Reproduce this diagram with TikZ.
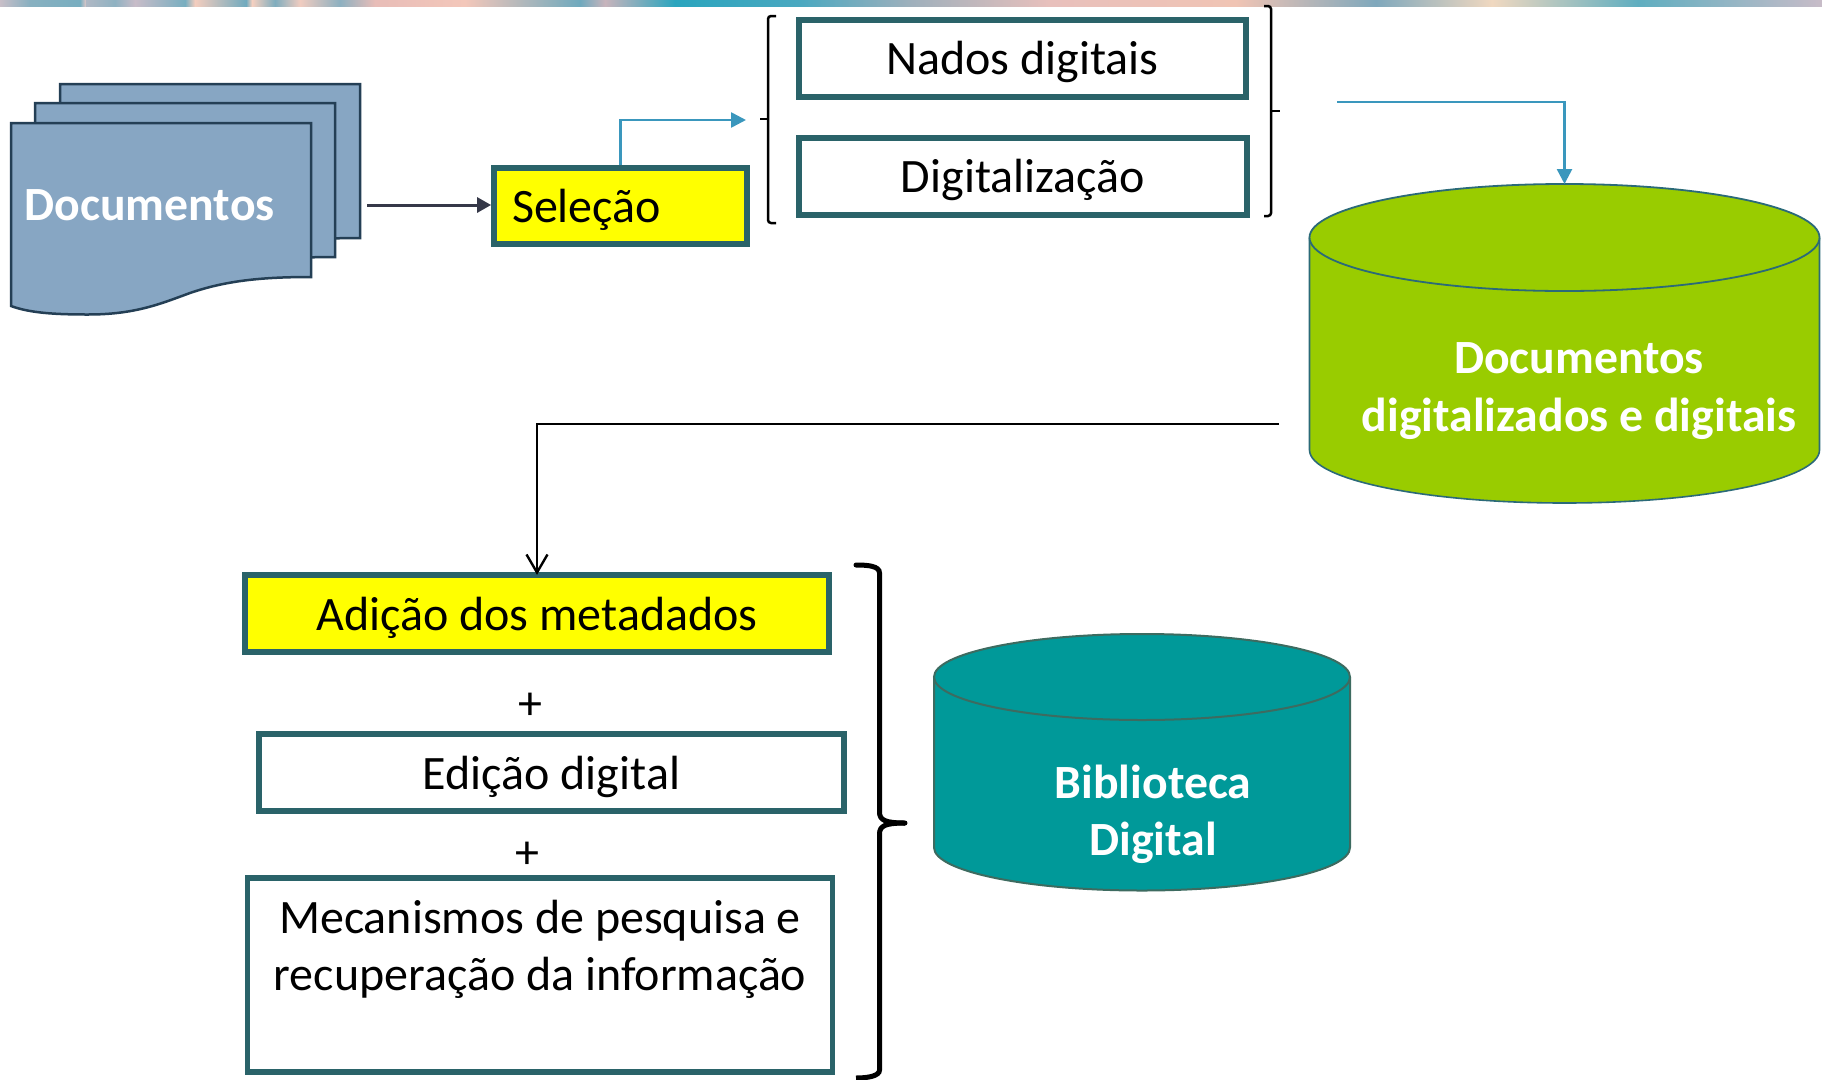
\documentclass[tikz,border=0pt]{standalone}
\usepackage{fontspec}
\setmainfont{Carlito}
\usetikzlibrary{arrows.meta}
\definecolor{boxline}{HTML}{2A6369}
\definecolor{docfill}{HTML}{87A6C3}
\definecolor{docline}{HTML}{243F55}
\definecolor{arrowdark}{HTML}{353848}
\definecolor{flowblue}{HTML}{3A97BD}
\definecolor{greenfill}{HTML}{99CC00}
\definecolor{greenline}{HTML}{2B6A78}
\definecolor{tealfill}{HTML}{009999}
\definecolor{tealline}{HTML}{3D6B60}
\definecolor{markyellow}{HTML}{FFFF00}
\tikzset{
  bigtext/.style={font=\fontsize{48}{57}\selectfont},
  stepbox/.style={draw=boxline,line width=5.8pt,fill=white,inner sep=0pt,bigtext,align=center},
  markbox/.style={stepbox,fill=markyellow},
  whitelabel/.style={text=white,inner sep=0pt,align=center,font=\fontsize{47.7}{57.5}\selectfont\bfseries},
  sheet/.style={fill=docfill,draw=docline,line width=2.5pt,line join=miter},
  brace/.style={draw=black,line width=2.5pt,rounded corners=3pt},
  blueflow/.style={draw=flowblue,line width=2.6pt,-{Triangle[length=15pt,width=15pt]}},
}
\newcommand{\sheetpath}{(11,123) -- (311,123) -- (311,277) .. controls (260,277) and (225,281) .. (190,293) .. controls (160,304) and (135,314.5) .. (88,314.5) .. controls (55,314.5) and (30,313) .. (11,306) -- cycle}
\begin{document}
\begin{tikzpicture}[x=1pt,y=-1pt]
\useasboundingbox (0,0) rectangle (1822,1079);
\fill[white] (0,0) rectangle (1822,1079);
% top picture strip
\foreach \xa/\xb/\ca/\cb in {
 0/30/C8BFC8/88B0C0, 30/80/88B0C0/78AEC0, 80/86/78AEC0/E0C8C8, 86/115/B0B8C4/8FB2C2,
 115/135/8FB2C2/C8BCC8, 135/185/C8BCC8/78AEC0, 185/195/78AEC0/F4CDBE, 195/246/F4CDBE/70AABE,
 246/252/70AABE/F5D0C0, 252/275/F5D0C0/7FADBE, 275/300/7FADBE/F0CCC0, 300/340/F0CCC0/8DB0C0,
 340/375/8DB0C0/E8BDB8, 375/465/E8BDB8/F3C7BA, 465/580/F3C7BA/6FA9BD, 580/605/6FA9BD/C8B4BC,
 605/675/C8B4BC/2AA5BE, 675/800/2AA5BE/4AA8C0, 800/911/4AA8C0/9FB0BC,
 911/1050/9FB0BC/E8C0BC, 1050/1236/E8C0BC/F0C4B4, 1236/1376/F0C4B4/7FA8BC,
 1376/1492/7FA8BC/F0D8C0, 1492/1638/F0D8C0/5FAEC0, 1638/1822/5FAEC0/C8BCC8}{
  \definecolor{stripa}{HTML}{\ca}\definecolor{stripb}{HTML}{\cb}
  \fill[left color=stripa,right color=stripb] (\xa,0) rectangle (\xb,6);
}
% stacked documents
\begin{scope}[shift={(49,-39)}]\draw[sheet] \sheetpath;\end{scope}
\begin{scope}[shift={(24,-20)}]\draw[sheet] \sheetpath;\end{scope}
\draw[sheet] \sheetpath;
\node[whitelabel,anchor=base west] (doclabel) at (24.5,220) {Documentos};

% boxes
\node[markbox,align=left,text width=217pt,inner xsep=18pt,minimum height=76pt,text height=34pt,text depth=2pt] (sel) at (620.5,206) {Seleção};
\node[stepbox,minimum width=447.5pt,minimum height=77.5pt,text height=33pt,text depth=2pt] (nados) at (1022.5,58.5) {Nados digitais};
\node[stepbox,minimum width=448.5pt,minimum height=77.5pt,text height=33pt,text depth=2pt] (digit) at (1023,176.5) {Digitalização};
\node[markbox,minimum width=584.5pt,minimum height=76.5pt,text height=35pt,text depth=2pt] (adicao) at (537,613.5) {Adição dos metadados};
\node[stepbox,minimum width=585.5pt,minimum height=77.5pt,text height=35pt,text depth=2pt] (edicao) at (551.5,772.5) {Edição digital};
\node[stepbox,minimum width=585pt,minimum height=193.5pt,text depth=3pt] (mecan) at (540,975) {Mecanismos de pesquisa e\\recuperação da informação\\[0pt]~};
\node[font=\fontsize{48}{57}\selectfont,inner sep=0pt] (plusa) at (530,706) {+};
\node[font=\fontsize{48}{57}\selectfont,inner sep=0pt] (plusb) at (527,855) {+};

% left and right braces of the top group
\draw[brace] (776,16) -- (768,16) -- (768,223) -- (776,223);
\draw[draw=black,line width=2.5pt] (760,119) -- (768,119);
\draw[brace] (1264,6) -- (1271,6) -- (1271,216) -- (1264,216);
\draw[draw=black,line width=2.5pt] (1271,111) -- (1280,111);

% green cylinder
\coordinate (greentop) at (1564.5,184);
\draw[greenline,line width=1.6pt,fill=greenfill] (1309.5,237.5) -- (1309.5,450) arc[start angle=180,end angle=360,x radius=255pt,y radius=53pt] -- (1819.5,237.5);
\draw[greenline,line width=1.8pt,fill=greenfill] (1564.5,237.5) ellipse[x radius=255pt,y radius=53.5pt];
\node[whitelabel,anchor=base] (greenlabel) at (1579,373.5) {Documentos};
\node[whitelabel,anchor=base] (greenlabelb) at (1579,431.5) {digitalizados e digitais};

% teal cylinder
\draw[tealline,line width=2pt,fill=tealfill] (934,677) -- (934,847.5) arc[start angle=180,end angle=360,x radius=208pt,y radius=43pt] -- (1350,677);
\draw[tealline,line width=2pt,fill=tealfill] (1142,677) ellipse[x radius=208pt,y radius=43pt];
\node[whitelabel,anchor=base] (biblio) at (1153,798) {Biblioteca};
\node[whitelabel,anchor=base] (biblib) at (1153,855) {Digital};

% big brace
\draw[draw=black,line width=5pt,line cap=round] (856,565) .. controls (868,565) and (879.5,566) .. (879.5,573) -- (879.5,812) .. controls (879.5,820) and (885,823) .. (905,823);
\draw[draw=black,line width=5pt] (905,823) .. controls (885,823) and (879.5,826) .. (879.5,834) -- (879.5,1070) .. controls (879.5,1076) and (868,1078) .. (856,1078);

% connectors
\coordinate (docout) at (367,205);
\coordinate (bracein) at (746,120);
\coordinate (groupout) at (1337,102);
\coordinate (greenout) at (1279,424);
\draw[draw=arrowdark,line width=3pt,-{Triangle[length=14pt,width=15pt]}] (docout) -- (docout -| sel.west);
\draw[blueflow] (sel.north) |- (bracein);
\draw[blueflow] (groupout) -| (greentop);
\draw[draw=black,line width=2.4pt,shorten >=-2.5pt,-{Straight Barb[length=18pt,width=21pt,line width=2.4pt]}] (greenout) -| (adicao.north);
\end{tikzpicture}
\end{document}
